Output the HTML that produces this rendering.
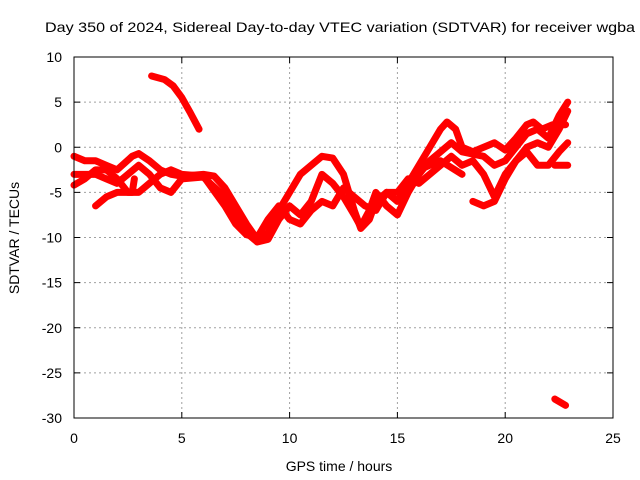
<!DOCTYPE html>
<html><head><meta charset="utf-8"><style>
body{margin:0;background:#fff;}
svg{display:block;font-family:"Liberation Sans",sans-serif;}
</style></head><body>
<svg id="c" width="640" height="480">
<text x="45" y="32" font-size="14" textLength="590" lengthAdjust="spacingAndGlyphs">Day 350 of 2024, Sidereal Day-to-day VTEC variation (SDTVAR) for receiver wgba</text>
<text x="339" y="471" font-size="14" text-anchor="middle">GPS time / hours</text>
<text transform="translate(19,238) rotate(-90)" font-size="14" text-anchor="middle">SDTVAR / TECUs</text>
<g id="grid"></g><g id="marks"></g>
<rect x="74" y="57" width="539" height="361" fill="none" stroke="#000"/>
</svg>
<script>
const xTicks=[0,5,10,15,20,25];
const yTicks=[10,5,0,-5,-10,-15,-20,-25,-30];
const s1=[[0,-1],[0.5,-1.5],[1,-1.5],[1.5,-2],[2,-2.5],[2.7,-1],[3,-0.7],[3.5,-1.5],[4,-2.5],[4.5,-3],[5,-3.2],[6,-3],[6.5,-3.2],[7,-4.5],[7.5,-6.5],[8,-8.5],[8.5,-10.2],[9,-9.5],[9.5,-7],[10,-5],[10.5,-3],[11,-2],[11.5,-1],[12,-1.2],[12.5,-3],[13,-7],[13.3,-9],[13.7,-8],[14,-6],[14.5,-5],[15,-6],[15.5,-4],[16,-2],[16.5,0],[17,2],[17.3,2.8],[17.7,2],[18,0],[18.5,-0.5],[19,0],[19.5,0.5],[20,-0.3],[20.5,1],[21,2.5],[21.3,2.8],[21.7,2],[22.2,2.5],[22.8,2.5]];
const s2=[[0,-3],[0.5,-3],[1,-3],[1.5,-3.5],[2,-4],[2.5,-3],[3,-2],[3.5,-3],[4,-4.5],[4.5,-5],[5,-3.5],[6,-3.3],[7,-5.5],[7.5,-7.5],[8,-9.5],[8.5,-10.5],[9,-10.2],[9.5,-8],[10,-6.5],[10.5,-7.5],[11,-6],[11.5,-3],[12,-4],[12.5,-5.5],[13,-7.5],[13.3,-8.8],[13.7,-7],[14,-5],[14.5,-6.5],[15,-7.5],[15.5,-5],[16,-3],[16.5,-1.5],[17,-0.5],[17.5,0.5],[18,-0.5],[19,-1],[19.5,-2],[20,-1.5],[20.5,0],[21,1.5],[21.5,2],[22,1],[22.5,3.5],[22.9,5]];
const s3=[[0,-4.2],[0.5,-3.5],[1,-2.5],[1.5,-2.5],[2,-3.5],[2.5,-5],[3,-5],[3.5,-4],[4,-3],[4.5,-2.5],[5,-3],[6,-3.2],[7,-6.5],[7.5,-8.5],[8,-9.7],[8.5,-10],[9,-8],[9.5,-6.5],[10,-8],[10.5,-8.5],[11,-7],[11.5,-6],[12,-6.5],[12.5,-4.5],[13,-5.5],[13.5,-6.5],[14,-7],[14.5,-5],[15,-5],[15.5,-3.5],[16,-4],[16.5,-3],[17,-2],[17.5,-1],[18,-2],[18.5,-1.5],[19,-3],[19.5,-5.5],[20,-3],[20.5,-1.5],[21,-0.5],[21.5,-2],[22,-2],[22.5,-0.5],[22.9,0.5]];
const s4=[[1,-6.5],[1.5,-5.5],[2,-5],[2.7,-5],[2.8,-3.5]];
const s5=[[18.5,-6],[19,-6.5],[19.5,-6],[20,-3.5],[20.5,-1.5],[21,0],[21.5,0.5],[22,0],[22.5,2],[22.9,4]];
const s6=[[15.5,-4.5],[16,-2.5],[17,-1.5],[18,-3]];
const s7=[[3.6,7.9],[4.2,7.5],[4.6,6.8],[5.0,5.5],[5.4,3.8],[5.8,2.0]];
const s8=[[22.3,-2],[22.9,-2]];
const s9=[[22.3,-27.9],[22.8,-28.6]];
const series=[s1,s2,s3,s4,s5,s6,s7,s8,s9];
const X=v=>74+v*539/25, Y=v=>57+(10-v)*361/40;
const NS='http://www.w3.org/2000/svg';
const grid=document.getElementById('grid'),marks=document.getElementById('marks'),svg=document.getElementById('c');
function mk(t,a,p){const e=document.createElementNS(NS,t);for(const k in a)e.setAttribute(k,a[k]);p.appendChild(e);return e;}
xTicks.forEach(v=>{const x=X(v);
 if(v>0&&v<25){const g=mk('line',{x1:x,x2:x,y1:57,y2:418,stroke:'#a0a0a0','stroke-dasharray':'2,3'},grid);
 
 }
 mk('line',{x1:x,x2:x,y1:418,y2:412,stroke:'#000'},grid);mk('line',{x1:x,x2:x,y1:57,y2:63,stroke:'#000'},grid);
 const t=mk('text',{x:x,y:443,'font-size':14,'text-anchor':'middle'},svg);t.textContent=v;
 
 });
yTicks.forEach(v=>{const y=Y(v);
 if(v>-30&&v<10){const g=mk('line',{x1:74,x2:613,y1:y,y2:y,stroke:'#a0a0a0','stroke-dasharray':'2,3'},grid);
 
 }
 mk('line',{x1:74,x2:80,y1:y,y2:y,stroke:'#000'},grid);mk('line',{x1:607,x2:613,y1:y,y2:y,stroke:'#000'},grid);
 const t=mk('text',{x:62,y:y+5,'font-size':14,'text-anchor':'end'},svg);t.textContent=v;
 
 });
series.forEach((s,i)=>{
 const p=mk('polyline',{points:s.map(d=>X(d[0])+','+Y(d[1])).join(' '),fill:'none',stroke:'#ff0000','stroke-width':7,'stroke-linejoin':'round','stroke-linecap':'round'},marks);
 
 });
</script>
</body></html>
